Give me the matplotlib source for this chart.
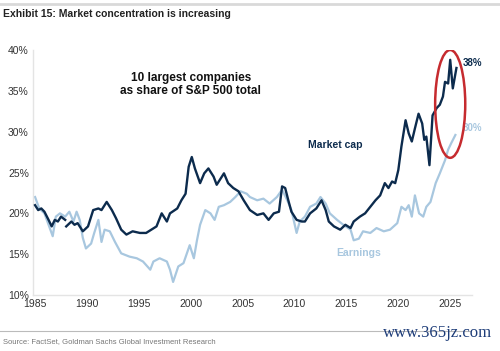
import numpy as np
import matplotlib.pyplot as plt
from matplotlib.patches import Ellipse

# market cap share of top 10 (%)
mcap_year = [1985.0, 1985.3, 1985.6, 1985.9, 1986.3, 1986.6, 1986.9, 1987.2, 1987.5, 1987.9,
             1987.95,
             1988.0, 1988.5, 1988.8, 1989.1, 1989.6, 1990.1, 1990.6, 1991.1, 1991.4, 1991.9,
             1992.4, 1992.8, 1993.3, 1993.8, 1994.4, 1995.1, 1995.7, 1996.2, 1996.7,
             1997.2, 1997.7, 1998.0, 1998.7, 1999.1, 1999.5, 1999.8, 2000.1, 2000.4,
             2000.9, 2001.3, 2001.7, 2002.2, 2002.5, 2003.2, 2003.6, 2004.1, 2004.6,
             2005.1, 2005.7, 2006.4, 2007.0, 2007.5, 2008.0, 2008.5, 2008.8, 2009.1,
             2009.4, 2009.7, 2010.2, 2010.7, 2011.0, 2011.5, 2012.1, 2012.6, 2013.0,
             2013.3, 2013.8, 2014.4, 2014.9, 2015.4, 2015.7, 2016.3, 2016.8, 2017.3,
             2017.8, 2018.25, 2018.7, 2019.05, 2019.4, 2019.7, 2020.0, 2020.3, 2020.7,
             2021.0, 2021.3, 2021.6, 2021.95, 2022.3, 2022.5, 2022.7, 2023.0, 2023.3,
             2023.7, 2024.0, 2024.3, 2024.5, 2024.8, 2025.0, 2025.25, 2025.6]
mcap = [21.0, 20.4, 20.6, 20.2, 19.2, 18.4, 19.2, 19.0, 19.6, 19.2,
        np.nan,
        18.4, 19.0, 18.6, 18.8, 17.8, 18.4, 20.4, 20.6, 20.4, 21.4,
        20.4, 19.4, 18.0, 17.4, 17.8, 17.6, 17.6, 18.0, 18.4,
        20.0, 19.0, 20.0, 20.6, 21.6, 22.4, 25.7, 26.9, 25.5,
        23.7, 24.9, 25.5, 24.5, 23.5, 24.9, 23.7, 23.1, 22.7,
        21.6, 20.4, 19.8, 20.0, 19.2, 20.0, 20.2, 23.3, 23.1,
        21.6, 20.2, 19.2, 19.0, 19.0, 20.0, 20.6, 21.6, 20.4,
        19.0, 18.4, 18.0, 18.6, 18.2, 19.0, 19.6, 20.0, 20.8,
        21.6, 22.2, 23.7, 23.1, 23.9, 23.7, 25.3, 28.2, 31.4,
        29.8, 28.8, 30.4, 32.2, 31.0, 29.0, 29.4, 25.9, 32.0,
        32.9, 33.3, 34.3, 36.1, 35.9, 38.8, 35.3, 37.8]

# earnings share of top 10 (%)
earn_year = [1985.0, 1985.4, 1985.9, 1986.3, 1986.7, 1987.0, 1987.4, 1987.9, 1988.3,
             1988.7, 1989.0, 1989.3, 1989.6, 1989.9, 1990.4, 1990.7, 1991.1, 1991.4,
             1991.7, 1992.2, 1992.7, 1993.3, 1994.1, 1994.8, 1995.4, 1996.1, 1996.4,
             1997.0, 1997.7, 1998.0,
             1998.3, 1998.8, 1999.3, 1999.9, 2000.3, 2000.6, 2000.9, 2001.4, 2001.9,
             2002.3, 2002.7, 2003.2, 2003.8, 2004.3, 2004.8, 2005.4, 2005.7, 2006.4,
             2007.0, 2007.6, 2008.3, 2008.8, 2009.3, 2009.7, 2010.2, 2010.5, 2011.0,
             2011.5, 2012.1, 2012.5, 2013.0, 2013.4, 2014.1, 2014.7, 2015.4, 2015.7,
             2016.2, 2016.6, 2017.3, 2017.9, 2018.6, 2019.2, 2019.9, 2020.3, 2020.7,
             2021.0, 2021.3, 2021.6, 2022.0, 2022.4, 2022.7, 2023.1, 2023.6, 2024.0,
             2024.5, 2024.8, 2025.1, 2025.5]
earn = [22.0, 20.6, 20.0, 18.6, 17.2, 19.6, 20.0, 19.6, 20.2,
        19.0, 20.2, 19.2, 17.0, 15.7, 16.3, 17.6, 19.2, 16.5,
        18.0, 17.8, 16.5, 15.1, 14.7, 14.5, 14.1, 13.1, 14.1,
        14.5, 14.1, 13.1,
        11.6, 13.5, 13.9, 16.1, 14.5, 16.7, 18.6, 20.4, 20.0,
        19.2, 20.8, 21.0, 21.4, 22.0, 22.7, 22.4, 22.0, 21.6,
        21.8, 21.2, 22.0, 22.9, 21.6, 20.4, 17.6, 19.0, 19.6,
        20.8, 21.2, 22.0, 21.2, 20.0, 19.2, 18.6, 18.0, 16.7,
        16.9, 17.8, 17.6, 18.2, 17.8, 18.0, 18.8, 20.8, 20.4,
        21.0, 19.6, 22.2, 20.0, 19.6, 20.8, 21.4, 23.7, 24.9,
        26.5, 27.8, 28.6, 29.6]

years = [1985, 1990, 1995, 2000, 2005, 2010, 2015, 2020, 2025]
pcts = [10, 15, 20, 25, 30, 35, 40]

navy = '#0c2b4d'
light = '#a8c7df'
plt.rcParams['font.family'] = ['Liberation Sans', 'DejaVu Sans']

fig = plt.figure(figsize=(5, 3.51), dpi=100)
ax = fig.add_axes([0.066, 0.1595, 0.878, 0.698])

ax.plot(earn_year, earn, color=light, lw=1.6, zorder=2)
ax.plot(mcap_year, mcap, color=navy, lw=1.7, zorder=3)

ax.add_patch(Ellipse((2025.0, 33.4), 2.9, 13.2, fill=False, ec='#c62b2f', lw=1.8, zorder=4))

ax.set_xlim(1984.8, 2027.1)
ax.set_ylim(10, 40)
ax.set_xticks(years)
ax.set_xticklabels([str(y) for y in years])
ax.set_yticks(pcts)
ax.set_yticklabels([f'{p}%' for p in pcts])
ax.tick_params(length=0, labelsize=7.5, colors='#333333', pad=3)
for s in ['top', 'right']:
    ax.spines[s].set_visible(False)
for s in ['left', 'bottom']:
    ax.spines[s].set_color('#e4e4e4')
    ax.spines[s].set_linewidth(1)

ax.text(2000.0, 35.8, '10 largest companies\nas share of S&P 500 total', ha='center', va='center',
        fontsize=8.5, fontweight='bold', color='#111111', linespacing=1.15)
ax.text(2011.3, 28.4, 'Market cap', fontsize=7.5, fontweight='bold', color=navy, ha='left', va='center')
ax.text(2014.0, 15.1, 'Earnings', fontsize=7.5, fontweight='bold', color=light, ha='left', va='center')
ax.text(2026.2, 38.4, '38%', fontsize=7, fontweight='bold', color=navy, ha='left', va='center', clip_on=False)
ax.text(2026.2, 30.4, '30%', fontsize=7, fontweight='bold', color=light, ha='left', va='center', clip_on=False)

fig.text(0.006, 0.96, 'Exhibit 15: Market concentration is increasing', fontsize=7.5, fontweight='bold',
         color='#222222', va='center')
fig.add_artist(plt.Line2D([0, 1], [0.99, 0.99], color='#d9d9d9', lw=2, transform=fig.transFigure))
fig.add_artist(plt.Line2D([0, 0.94], [0.058, 0.058], color='#bbbbbb', lw=0.8, transform=fig.transFigure))
fig.text(0.006, 0.026, 'Source: FactSet, Goldman Sachs Global Investment Research', fontsize=5.5,
         color='#777777', va='center')
fig.text(0.985, 0.052, 'www.365jz.com', fontsize=12, color='#1d3c78', ha='right', va='center',
         family=['Liberation Serif', 'DejaVu Serif'])

fig.savefig('out.png', dpi=100)
